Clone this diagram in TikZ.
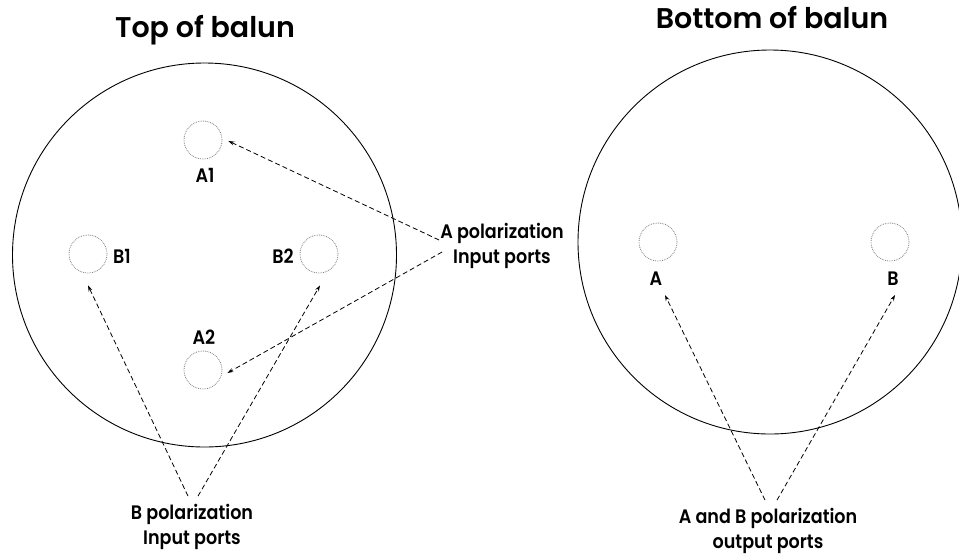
\documentclass[tikz,border=0pt]{standalone}
\usepackage{fontspec}
\setmainfont{Poppins}[BoldFont={Poppins SemiBold}]
\newfontfamily\narrowfont{Poppins SemiBold}[FakeStretch=0.9]
\usepackage{tikz}
\usetikzlibrary{arrows.meta,positioning,calc}

\begin{document}
\begin{tikzpicture}[
    x=1pt, y=-1pt,
    body/.style={circle, draw, line width=0.9pt, minimum size=384pt, inner sep=0pt},
    port/.style={circle, draw=gray, densely dotted, line width=0.8pt, minimum size=38pt, inner sep=0pt},
    title/.style={anchor=base, font=\fontsize{28.5}{32}\selectfont\bfseries},
    portlabel/.style={font=\fontsize{19.5}{20}\selectfont\narrowfont, inner sep=1pt},
    note/.style={align=center, font=\fontsize{19.5}{25}\selectfont\narrowfont, inner sep=1pt},
    pointer/.style={-{Stealth[length=6pt,width=4pt]}, dashed, dash pattern=on 5pt off 3pt, line width=0.8pt}
]
\useasboundingbox (0,0) rectangle (959,558);

% Top of balun
\node[title] (top-title) at (205,37) {Top of balun};
\node[body] (top) at (204.5,255) {};
\node[port] (A1) at (203,140) {};
\node[port] (A2) at (203,370) {};
\node[port] (B1) at (88,254) {};
\node[port] (B2) at (319,254) {};
\node[portlabel] (A1-lab) at (205,175) {A1};
\node[portlabel] (A2-lab) at (204,337) {A2};
\node[portlabel] (B1-lab) at (122,256) {B1};
\node[portlabel] (B2-lab) at (283,256) {B2};

\node[note] (apol) at (502,246) {A polarization\\Input ports};
\node[note] (bpol) at (192,527) {B polarization\\Input ports};

\draw[pointer] ([yshift=6]apol.west) -- ([xshift=6,yshift=-1]A1.east);
\draw[pointer] ([xshift=3,yshift=-6]apol.west) -- ([xshift=5,yshift=-3]A2.east);
\draw[pointer] ([xshift=-4,yshift=7]bpol.north) -- ([yshift=-12]B1.south);
\draw[pointer] ([xshift=6,yshift=7]bpol.north) -- ([xshift=1,yshift=-12]B2.south);

% Bottom of balun
\node[title] (bot-title) at (772,28) {Bottom of balun};
\node[body] (bot) at (770,242) {};
\node[port] (A) at (658,242) {};
\node[port] (B) at (890,242) {};
\node[portlabel] (A-lab) at (656,279) {A};
\node[portlabel] (B-lab) at (893,279) {B};

\node[note] (abpol) at (768,531) {A and B polarization\\output ports};

\draw[pointer] ([xshift=-3,yshift=7]abpol.north) -- ([xshift=9,yshift=-8]A-lab.south);
\draw[pointer] ([xshift=9,yshift=7]abpol.north) -- ([xshift=2,yshift=-8]B-lab.south);

\end{tikzpicture}
\end{document}
